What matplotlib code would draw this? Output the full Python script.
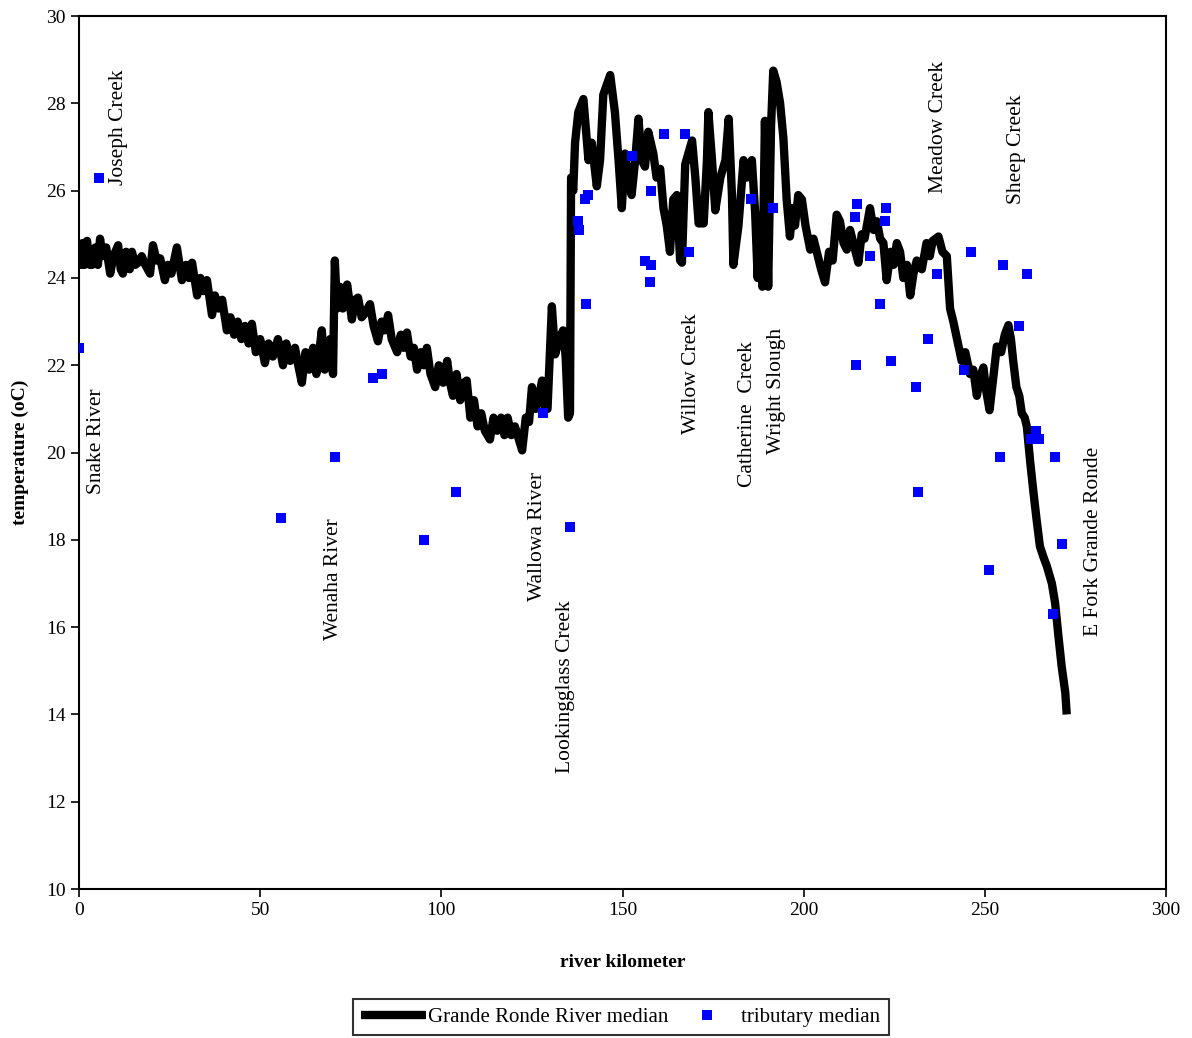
import matplotlib
matplotlib.use("Agg")
import matplotlib.pyplot as plt

plt.rcParams['font.family'] = ['Liberation Serif', 'DejaVu Serif']

# Grande Ronde River median (river km, temperature)
river_km = [
    0, 0.5, 1, 1.5, 2.2, 3, 3.6, 4.5, 5.2, 5.8, 6.5, 7.5, 8.6, 9.5, 10.8, 11.5,
    12.1, 13, 14, 14.6, 15.5, 16.3, 17.3, 18.3, 19.6, 20.4, 21.4, 22.4, 23.7,
    24.5, 25.5, 27, 28.4, 29.5, 30.3, 31.2, 32.6, 33.5, 34.3, 35.3, 36.7, 37.5,
    38.5, 39.5, 40.8, 41.8, 42.8, 43.8, 44.8, 45.8, 46.8, 47.7, 48.8, 50,
    51.3, 52.3, 53.5, 54.9, 56.3, 57.2, 58.3, 59.6, 60.5, 61.5, 62.5, 63.5,
    64.6, 65.5, 66.3, 67, 67.8, 68.5, 69.3, 70.1,
    70.6, 71.2, 72, 72.8, 74, 75.3, 76.2, 77, 78, 79, 80.3, 81.3, 82.5, 83.5,
    84.4, 85.3, 86.3, 87.8, 88.8, 89.6, 90.5, 91.5, 92.4, 93.3, 94.3, 95.2,
    96, 97, 98.3, 99.3,
    100.5, 101.6, 102.4, 103.2, 104.2, 105.2, 106.2, 107, 108, 109, 110, 111,
    112, 113.4, 114.4, 115.4, 116.5, 117.4, 118.3, 119.3, 120.3, 121.4, 122.3,
    123.3, 124.2, 125, 126, 127, 127.8, 128.6, 129.3, 130.5, 131.4, 132.5,
    133.6, 134.3, 135, 135.5,
    135.8, 136.4, 136.9, 137.8, 139.2, 140.6, 141.5, 142.9, 143.8, 144.7,
    146.6, 147.9, 148.9, 149.8, 150.7, 151.6, 152.5, 153.5, 154.4, 155.3,
    156.2, 157.1, 158.5, 159.4, 160.4, 161.3, 162.2, 163.1, 164.0, 165.0,
    165.9, 166.4, 167.3, 169.2, 170.1, 171.0, 172.4, 173.3, 173.7, 174.7,
    175.6, 177.0, 178.4, 179.3, 180.2, 180.6, 182.0, 183.4, 184.3, 185.7,
    186.6, 187.3, 188.0, 188.6, 189.3, 190.2, 191.0, 191.6, 192.5, 193.5,
    194.4, 195.3, 196.2, 197.0, 197.6, 198.5, 199.5, 200.5, 201.8, 202.7,
    203.6, 204.8, 205.9, 207.0, 208.0, 209.1, 210.0, 211.0, 211.9, 212.8,
    214.0, 215.1, 216.0, 216.8, 218.3, 219.3, 220.2, 221.1, 222.0, 222.9,
    224.0, 224.8, 225.7, 226.6, 227.5, 228.5, 229.4, 230.3, 231.2, 232.6,
    233.9, 234.8, 235.6, 237.2, 238.3, 239.5, 240.4, 241.3, 242.2, 243.6,
    244.6, 245.9, 246.8, 247.8, 248.6, 249.6, 250.4, 251.3, 252.3, 253.3,
    254.5, 255.5, 256.5, 257.2, 257.8, 258.7, 259.5, 260.2, 261.0, 261.6,
    262.5, 263.4, 264.3, 265.2, 266.2, 267.1, 268.5, 269.4, 270.3, 271.2,
    272.2, 272.6,
]
river_temp = [
    24.8, 24.3, 24.8, 24.3, 24.85, 24.3, 24.3, 24.7, 24.3, 24.9, 24.5, 24.7,
    24.1, 24.5, 24.75, 24.2, 24.1, 24.6, 24.2, 24.6, 24.3, 24.35, 24.5, 24.3,
    24.1, 24.75, 24.4, 24.45, 23.95, 24.3, 24.1, 24.7, 23.95, 24.3, 24.0,
    24.35, 23.6, 24.0, 23.7, 23.95, 23.15, 23.6, 23.3, 23.5, 22.8, 23.1, 22.7,
    23.0, 22.6, 22.9, 22.5, 22.95, 22.3, 22.6,
    22.05, 22.5, 22.2, 22.6, 22.0, 22.5, 22.1, 22.4, 22.0, 21.6, 22.3, 21.9,
    22.4, 21.8, 22.3, 22.8, 21.9, 22.4, 22.6, 21.8,
    24.4, 23.3, 23.8, 23.3, 23.85, 23.05, 23.5, 23.55, 23.1, 23.2, 23.4, 22.9,
    22.55, 23.0, 22.8, 23.15, 22.6, 22.3, 22.7, 22.4, 22.75, 22.2, 22.4, 21.9,
    22.3, 22.0, 22.4, 21.8, 21.5, 22.0,
    21.6, 22.1, 21.6, 21.3, 21.8, 21.2, 21.6, 21.65, 20.8, 21.2, 20.6, 20.9,
    20.5, 20.3, 20.8, 20.5, 20.8, 20.4, 20.8, 20.4, 20.6, 20.3, 20.05, 20.8,
    20.7, 21.5, 21.0, 21.3, 21.65, 21.0, 21.0, 23.35, 22.25, 22.6, 22.8, 22.2,
    20.8, 20.9,
    26.3, 26.0, 27.1, 27.8, 28.1, 26.7, 27.1, 26.1, 26.7, 28.2,
    28.65, 27.8, 26.7, 25.6, 26.85, 26.3, 25.9, 26.7, 27.65, 26.7,
    26.55, 27.35, 26.85, 26.3, 26.5, 25.6, 25.2, 24.6, 25.8, 25.9,
    24.4, 24.35, 26.6, 27.15, 26.3, 25.25, 25.25, 26.7, 27.8, 26.7,
    25.55, 26.3, 26.7, 27.65, 25.9, 24.3, 25.2, 26.7, 26.3, 26.7,
    25.5, 24.0, 25.4, 23.8, 27.6, 23.8, 27.5, 28.75, 28.5, 28.0,
    27.2, 25.8, 24.95, 25.6, 25.2, 25.9, 25.8, 25.2, 24.65, 24.9,
    24.6, 24.2, 23.9, 24.6, 24.4, 25.45, 25.3, 24.8, 24.65, 25.1,
    24.7, 24.35, 25.0, 24.9, 25.6, 25.1, 25.3, 24.9, 24.8, 23.95,
    24.6, 24.3, 24.8, 24.6, 24.0, 24.3, 23.6, 24.1, 24.4, 24.2,
    24.8, 24.5, 24.85, 24.95, 24.6, 24.5, 23.3, 23.0, 22.65, 22.1,
    22.3, 21.8, 21.9, 21.3, 21.7, 21.95, 21.4, 20.97, 21.7, 22.43,
    22.3, 22.7, 22.92, 22.6, 22.12, 21.5, 21.3, 20.9, 20.8, 20.59,
    19.8, 19.1, 18.45, 17.85, 17.6, 17.4, 17.0, 16.55, 15.8, 15.1,
    14.5, 14.0,
]

# tributary medians
trib_km = [
    0, 5.5, 55.7, 70.7, 81.1, 83.6, 95.2, 104, 128, 135.5, 137.7, 138, 139.6,
    140.5, 140, 152.6, 156.2, 157.6, 157.9, 157.9, 161.5, 167.2, 168.4, 185.5,
    191.5, 214.7, 214.2, 214.4, 218.3, 221.1, 222.7, 222.4, 224.1, 231.0,
    231.6, 234.3, 236.8, 244.3, 246.2, 251.1, 254.2, 255.0, 259.4, 261.6,
    264.1, 262.7, 264.9, 269.4, 268.8, 271.3,
]
trib_temp = [
    22.4, 26.3, 18.5, 19.9, 21.7, 21.8, 18.0, 19.1, 20.9, 18.3, 25.3, 25.1, 25.8,
    25.9, 23.4, 26.8, 24.4, 23.9, 24.3, 26.0, 27.3, 27.3, 24.6, 25.8,
    25.6, 25.7, 25.4, 22.0, 24.5, 23.4, 25.6, 25.3, 22.1, 21.5,
    19.1, 22.6, 24.1, 21.9, 24.6, 17.3, 19.9, 24.3, 22.9, 24.1,
    20.5, 20.3, 20.3, 19.9, 16.3, 17.9,
]

# tributary names (label km, label base temperature)
label_names = ["Joseph Creek", "Snake River", "Wenaha River", "Wallowa River",
               "Lookingglass Creek", "Willow Creek", "Catherine  Creek",
               "Wright Slough", "Meadow Creek", "Sheep Creek",
               "E Fork Grande Ronde"]
label_km = [11.0, 4.7, 70.1, 126.4, 134.4, 168.9, 184.4, 192.6, 237.1, 258.6, 280.1]
label_temp = [26.13, 19.05, 15.7, 16.6, 12.66, 20.42, 19.2, 19.97, 25.95, 25.7, 15.8]

fig = plt.figure(figsize=(11.92, 10.38), dpi=100)
ax = fig.add_axes([0.0663, 0.1435, 0.9119, 0.8410])

ax.plot(river_km, river_temp, color='black', linewidth=6, solid_joinstyle='round',
        solid_capstyle='butt', label='Grande Ronde River median', zorder=2)
ax.plot(trib_km, trib_temp, linestyle='none', marker='s', markersize=7,
        color='#0000FF', markeredgewidth=0, label='tributary median', zorder=3)

for name, x, y in zip(label_names, label_km, label_temp):
    ax.text(x, y, name, rotation=90, ha='center', va='bottom', fontsize=15.5)

ax.set_xlim(0, 300)
ax.set_ylim(10, 30)
ax.set_xticks(range(0, 301, 50))
ax.set_yticks(range(10, 31, 2))
ax.tick_params(direction='out', length=6, width=1.2, labelsize=14)
for s in ax.spines.values():
    s.set_linewidth(1.5)

ax.set_xlabel('river kilometer', fontsize=14, fontweight='bold', labelpad=25)
ax.set_ylabel('temperature (oC)', fontsize=14, fontweight='bold', labelpad=12)

leg = fig.legend(loc='center', bbox_to_anchor=(0.521, 0.0202), ncol=2,
                 fontsize=15, frameon=True, fancybox=False, handlelength=3.1,
                 columnspacing=0.3, borderpad=0.4, handletextpad=0.1)
leg.get_frame().set_edgecolor('black')
leg.get_frame().set_linewidth(1.5)

fig.savefig('out.png', dpi=100)
